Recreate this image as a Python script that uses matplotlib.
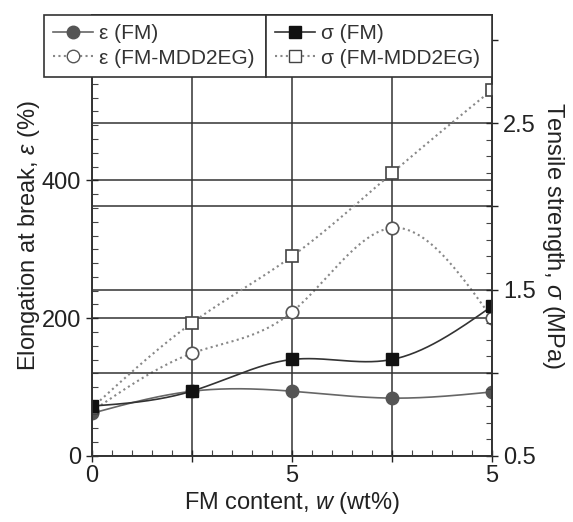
import numpy as np
import matplotlib
matplotlib.use("Agg")
import matplotlib.pyplot as plt
from matplotlib.ticker import MultipleLocator, FixedLocator, FuncFormatter


plt.rcParams["font.family"] = ["Liberation Sans", "DejaVu Sans"]
plt.rcParams["mathtext.fontset"] = "custom"
plt.rcParams["mathtext.it"] = "Liberation Sans:italic"
plt.rcParams["mathtext.rm"] = "Liberation Sans"

# FM content (wt%)
w = [0, 2.5, 5, 7.5, 10]

# elongation at break (%), left axis
eps_fm = [62, 94, 94, 84, 93]
eps_mdd = [65, 149, 209, 331, 200]

# tensile strength (MPa), right axis
sig_fm = [0.80, 0.89, 1.08, 1.08, 1.40]
sig_mdd = [0.79, 1.30, 1.70, 2.20, 2.70]

x_ticks = [0, 2.5, 5, 7.5, 10]
x_ticklabels = ["0", "", "5", "", "5"]


def spline(x, y, n=200):
    # natural cubic spline, just for drawing the connecting curve
    x = np.asarray(x, float)
    y = np.asarray(y, float)
    m = len(x)
    h = np.diff(x)
    A = np.zeros((m, m))
    r = np.zeros(m)
    A[0, 0] = A[-1, -1] = 1
    for i in range(1, m - 1):
        A[i, i - 1] = h[i - 1]
        A[i, i] = 2 * (h[i - 1] + h[i])
        A[i, i + 1] = h[i]
        r[i] = 6 * ((y[i + 1] - y[i]) / h[i] - (y[i] - y[i - 1]) / h[i - 1])
    M = np.linalg.solve(A, r)
    xs = np.linspace(x[0], x[-1], n)
    k = np.clip(np.searchsorted(x, xs) - 1, 0, m - 2)
    a = x[k + 1] - xs
    b = xs - x[k]
    hk = h[k]
    ys = (M[k] * a**3 + M[k + 1] * b**3) / (6 * hk) \
        + (y[k] / hk - M[k] * hk / 6) * a + (y[k + 1] / hk - M[k + 1] * hk / 6) * b
    return xs, ys


fig = plt.figure(figsize=(5.73, 5.22), dpi=100)
ax = fig.add_axes([92 / 573, 66 / 522, 400 / 573, 441 / 522])
ax2 = ax.twinx()

# curves
xs, ys = spline(w, eps_fm)
ax.plot(xs, ys, color="#666666", lw=1.2)
xs, ys = spline(w, eps_mdd)
ax.plot(xs, ys, color="#888888", lw=1.5, ls=(0, (1, 1.6)))
xs, ys = spline(w, sig_fm)
ax2.plot(xs, ys, color="#333333", lw=1.2)
xs, ys = spline(w, sig_mdd)
ax2.plot(xs, ys, color="#888888", lw=1.5, ls=(0, (1, 1.6)))

# markers
ax.plot(w, eps_mdd, ls="none", marker="o", ms=9, mfc="white", mec="#555555", mew=1.2)
ax.plot(w, eps_fm, ls="none", marker="o", ms=9, mfc="#555555", mec="#555555")
ax2.plot(w, sig_mdd, ls="none", marker="s", ms=8.5, mfc="white", mec="#444444", mew=1.2)
ax2.plot(w, sig_fm, ls="none", marker="s", ms=8.5, mfc="#111111", mec="#111111")

ax.set_xlim(0, 10)
ax.set_ylim(0, 640)
ax2.set_ylim(0.5, 3.15)

ax.xaxis.set_major_locator(FixedLocator(x_ticks))
ax.set_xticklabels(x_ticklabels)
ax.xaxis.set_minor_locator(MultipleLocator(0.5))
ax.yaxis.set_major_locator(FixedLocator([0, 200, 400]))
ax.yaxis.set_minor_locator(MultipleLocator(20))
ax2.yaxis.set_major_locator(MultipleLocator(0.5))
ax2.yaxis.set_minor_locator(MultipleLocator(0.1))
ax2.yaxis.set_major_formatter(FuncFormatter(
    lambda v, p: f"{v:.1f}" if abs((v - 0.5) % 1.0) < 1e-6 else ""))

for a in (ax, ax2):
    a.tick_params(which="major", direction="inout", length=9, width=1,
                  labelsize=17, colors="#222222")
    a.tick_params(which="minor", direction="in", length=4, width=0.8,
                  colors="#444444")
    for s in a.spines.values():
        s.set_color("#333333")
        s.set_linewidth(1.2)
ax.tick_params(axis="x", pad=2)

ax.grid(True, which="major", color="#333333", lw=1.1)
ax2.grid(True, which="major", axis="y", color="#333333", lw=1.1)

ax.set_xlabel(r"FM content, $\mathit{w}$ (wt%)", fontsize=17, color="#222222", labelpad=2)
ax.set_ylabel(r"Elongation at break, $\mathit{\varepsilon}$ (%)", fontsize=17,
              color="#222222", labelpad=0)
ax2.set_ylabel(r"Tensile strength, $\mathit{\sigma}$ (MPa)", fontsize=17,
               color="#222222", rotation=270, labelpad=22)

# legends (two boxes side by side across the top)
h_efm = plt.Line2D([], [], color="#666666", lw=1.2, marker="o", ms=9,
                   mfc="#555555", mec="#555555")
h_emdd = plt.Line2D([], [], color="#888888", lw=1.5, ls=(0, (1, 1.6)), marker="o",
                    ms=9, mfc="white", mec="#555555")
h_sfm = plt.Line2D([], [], color="#333333", lw=1.2, marker="s", ms=8.5,
                   mfc="#111111", mec="#111111")
h_smdd = plt.Line2D([], [], color="#888888", lw=1.5, ls=(0, (1, 1.6)), marker="s",
                    ms=8.5, mfc="white", mec="#444444")

leg_kw = dict(loc="upper left", mode="expand", bbox_transform=fig.transFigure,
              borderaxespad=0, fancybox=False, framealpha=1, edgecolor="#333333",
              fontsize=15, handlelength=1.9, handletextpad=0.3, labelspacing=0.25,
              borderpad=0.45, labelcolor="#333333")
leg1 = ax2.legend([h_efm, h_emdd], ["ε (FM)", "ε (FM-MDD2EG)"],
                  bbox_to_anchor=(44 / 573, 1 - 15 / 522, 222 / 573, 0), **leg_kw)
leg1.get_frame().set_linewidth(1.2)
ax2.add_artist(leg1)
leg2 = ax2.legend([h_sfm, h_smdd], ["σ (FM)", "σ (FM-MDD2EG)"],
                  bbox_to_anchor=(266 / 573, 1 - 15 / 522, 226 / 573, 0), **leg_kw)
leg2.get_frame().set_linewidth(1.2)

fig.savefig("out.png", dpi=100)
